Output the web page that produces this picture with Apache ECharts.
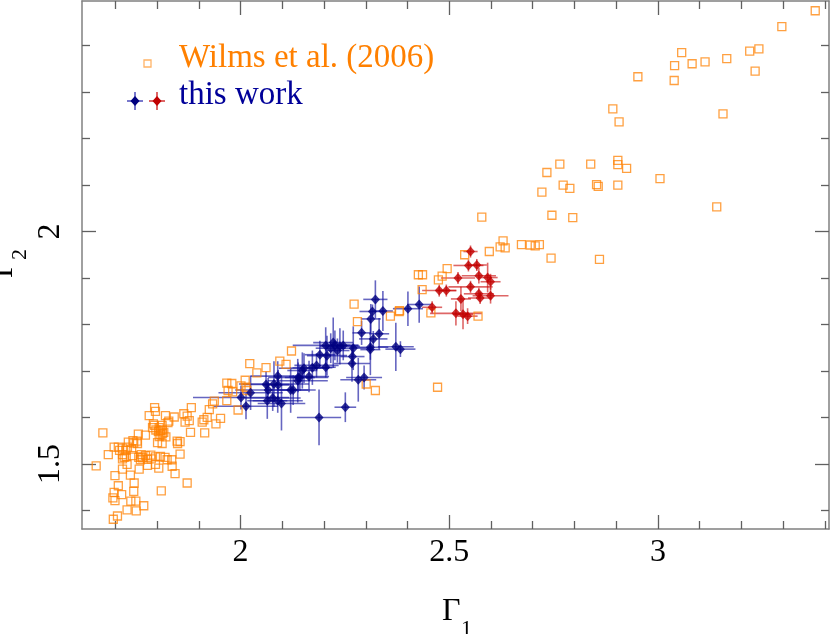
<!DOCTYPE html>
<html>
<head>
<meta charset="utf-8">
<script src="https://cdn.jsdelivr.net/npm/echarts@6/dist/echarts.min.js"></script>
<style>
    html, body { margin: 0; padding: 0; background: #fff; }
    #chart { width: 830px; height: 634px; }
</style>
</head>
<body>
<div id="chart"></div>
<script>
// Wilms et al. (2006): Gamma1, Gamma2
var wilmsG1 = [3.377,3.297,3.057,3.040,3.082,3.113,3.165,3.220,3.242,3.233,2.952,3.039,2.892,2.907,3.156,3.141,
    2.765,2.839,2.904,2.904,2.925,3.005,2.773,2.789,2.853,2.857,2.904,2.734,2.722,2.746,2.796,2.578,
    2.629,2.622,2.634,2.673,2.694,2.706,2.716,2.744,2.860,2.596,2.537,2.495,2.483,2.474,2.426,2.436,
    2.435,2.381,2.456,2.569,2.472,2.272,2.280,2.359,2.380,2.122,2.094,2.109,2.022,2.061,2.039,2.011,
    1.967,1.979,2.001,2.013,1.970,1.981,2.015,1.967,1.937,1.933,1.925,1.882,1.994,1.864,1.872,1.952,
    1.920,1.912,1.877,1.867,1.908,1.941,1.880,1.914,2.301,2.323,1.855,1.794,1.796,1.781,1.820,1.841,
    1.828,1.826,1.791,1.793,1.805,1.789,1.797,1.808,1.803,1.812,1.816,1.809,1.805,1.801,1.812,1.812,
    1.813,1.821,1.772,1.755,1.752,1.848,1.849,1.670,1.697,1.707,1.717,1.710,1.729,1.725,1.731,1.744,
    1.742,1.753,1.683,1.739,1.717,1.721,1.717,1.726,1.728,1.741,1.762,1.761,1.765,1.772,1.777,1.756,
    1.785,1.786,1.796,1.808,1.819,1.760,1.777,1.796,1.804,1.836,1.824,1.855,1.835,1.654,1.699,1.717,
    1.736,1.757,1.707,1.745,1.872,1.697,1.715,1.744,1.694,1.699,1.810,1.737,1.749,1.768,1.728,1.750,
    1.705,1.695,1.843];
var wilmsG2 = [2.475,2.441,2.385,2.357,2.361,2.365,2.372,2.388,2.393,2.345,2.333,2.325,2.264,2.236,2.253,2.053,
    2.145,2.145,2.153,2.144,2.136,2.114,2.100,2.093,2.101,2.097,2.100,2.127,2.085,2.035,2.030,2.031,
    1.980,1.967,1.965,1.972,1.971,1.969,1.972,1.943,1.940,1.957,1.950,1.920,1.904,1.896,1.907,1.907,
    1.875,1.830,1.825,1.818,1.665,1.844,1.806,1.818,1.828,1.743,1.721,1.714,1.716,1.707,1.696,1.680,
    1.674,1.673,1.668,1.665,1.658,1.655,1.658,1.636,1.635,1.629,1.617,1.621,1.616,1.608,1.603,1.598,
    1.600,1.595,1.593,1.590,1.590,1.586,1.568,1.567,1.672,1.658,1.548,1.621,1.613,1.604,1.604,1.601,
    1.592,1.589,1.586,1.583,1.578,1.578,1.573,1.572,1.570,1.573,1.568,1.563,1.559,1.546,1.544,1.583,
    1.565,1.558,1.562,1.564,1.549,1.549,1.544,1.567,1.536,1.536,1.534,1.529,1.536,1.529,1.547,1.545,
    1.550,1.544,1.520,1.532,1.520,1.514,1.511,1.515,1.499,1.518,1.520,1.515,1.513,1.518,1.510,1.514,
    1.519,1.511,1.515,1.516,1.514,1.509,1.497,1.499,1.491,1.495,1.509,1.521,1.509,1.496,1.475,1.489,
    1.476,1.489,1.453,1.459,1.459,1.439,1.434,1.441,1.427,1.421,1.442,1.420,1.420,1.410,1.401,1.399,
    1.388,1.381,1.479];

// this work (blue): Gamma1, Gamma2 and their errors
var blueG1 = [2.323,2.316,2.341,2.312,2.290,2.332,2.318,2.401,2.428,2.372,2.383,2.311,2.311,2.270,2.268,2.267,
    2.204,2.222,2.226,2.238,2.246,2.216,2.232,2.190,2.207,2.182,2.172,2.152,2.148,2.164,2.204,2.138,
    2.142,2.137,2.282,2.296,2.089,2.061,2.080,2.090,2.066,2.024,2.001,2.013,2.064,2.077,2.089,2.098,
    2.120,2.126,2.188,2.251];
var blueG2 = [1.854,1.828,1.829,1.812,1.782,1.780,1.769,1.834,1.843,1.752,1.747,1.751,1.746,1.749,1.731,1.716,
    1.755,1.761,1.755,1.753,1.755,1.749,1.744,1.735,1.733,1.712,1.707,1.706,1.701,1.688,1.708,1.686,
    1.686,1.679,1.681,1.686,1.689,1.671,1.672,1.670,1.659,1.653,1.643,1.624,1.636,1.642,1.636,1.630,
    1.659,1.659,1.600,1.622];
var blueErrG1 = [.029,.031,.024,.024,.022,.024,.034,.036,.029,.043,.036,.043,.024,.036,.029,.043,
    .079,.048,.036,.048,.036,.036,.029,.036,.048,.053,.048,.060,.036,.048,.024,.072,
    .036,.072,.043,.043,.065,.055,.084,.036,.079,.077,.115,.077,.048,.067,.060,.057,
    .060,.036,.053,.026];
var blueErrG2 = [.041,.015,.043,.032,.026,.034,.017,.037,.039,.052,.017,.060,.022,.047,.020,.039,
    .039,.054,.032,.039,.032,.032,.026,.030,.043,.026,.037,.032,.039,.034,.022,.032,
    .026,.047,.047,.026,.032,.028,.049,.032,.026,.037,.026,.028,.039,.028,.026,.058,
    .049,.032,.060,.032];

// this work (red)
var redG1 = [2.551,2.546,2.566,2.571,2.521,2.592,2.599,2.551,2.476,2.493,2.571,2.574,2.599,2.528,2.459,2.516,2.533,2.544];
var redG2 = [1.957,1.927,1.928,1.905,1.900,1.901,1.892,1.881,1.873,1.873,1.866,1.857,1.862,1.855,1.837,1.824,1.822,1.818];
var redErrG1 = [.017,.036,.024,.041,.041,.024,.024,.053,.041,.024,.036,.029,.043,.024,.024,.062,.024,.024];
var redErrG2 = [.013,.013,.013,.017,.013,.032,.017,.013,.013,.013,.013,.013,.017,.026,.013,.026,.032,.017];

// ticks
var xMajor = [2, 2.5, 3];
var xMinor = [1.7, 1.8, 1.9, 2.1, 2.2, 2.3, 2.4, 2.6, 2.7, 2.8, 2.9, 3.1, 3.2, 3.3, 3.4];
var yMajor = [1.5, 2];
var yMinor = [1.4, 1.6, 1.7, 1.8, 1.9, 2.1, 2.2, 2.3, 2.4];

var X_MIN = 1.62, X_MAX = 3.41, Y_MIN = 1.36, Y_MAX = 2.496;
var FONT = 'Liberation Serif';

var myChart = echarts.init(document.getElementById('chart'));

function makeAxis(dim, pos, ticks, len, major) {
    return {
        type: 'value',
        position: pos,
        min: dim === 'x' ? X_MIN : Y_MIN,
        max: dim === 'x' ? X_MAX : Y_MAX,
        axisLine: { show: major, onZero: false, lineStyle: { color: '#808080', width: 1.5 } },
        axisTick: { show: true, inside: true, length: len, customValues: ticks,
            lineStyle: { color: '#606060', width: 1.3 } },
        axisLabel: {
            show: major && (pos === 'bottom' || pos === 'left'),
            customValues: ticks,
            color: '#000',
            fontFamily: FONT,
            fontSize: 32,
            rotate: dim === 'y' ? 90 : 0,
            margin: dim === 'y' ? 15 : 8,
            formatter: function (v) { return String(v); }
        },
        splitLine: { show: false }
    };
}

function errorBars(color) {
    return function (params, api) {
        var x = api.value(0), y = api.value(1), ex = api.value(2), ey = api.value(3);
        var a = api.coord([x - ex, y]), b = api.coord([x + ex, y]);
        var c = api.coord([x, y - ey]), d = api.coord([x, y + ey]);
        var style = { stroke: color, lineWidth: 1.6 };
        return {
            type: 'group',
            children: [
                { type: 'line', shape: { x1: a[0], y1: a[1], x2: b[0], y2: b[1] }, style: style },
                { type: 'line', shape: { x1: c[0], y1: c[1], x2: d[0], y2: d[1] }, style: style }
            ]
        };
    };
}

var wilmsData = wilmsG1.map(function (x, i) { return [x, wilmsG2[i]]; });
var blueData = blueG1.map(function (x, i) { return [x, blueG2[i], blueErrG1[i], blueErrG2[i]]; });
var redData = redG1.map(function (x, i) { return [x, redG2[i], redErrG1[i], redErrG2[i]]; });

function legendMark(cx, cy, color, bar) {
    return [
        { type: 'line', shape: { x1: cx - 8, y1: cy, x2: cx + 8, y2: cy }, style: { stroke: bar, lineWidth: 1.5 } },
        { type: 'line', shape: { x1: cx, y1: cy - 9, x2: cx, y2: cy + 9 }, style: { stroke: bar, lineWidth: 1.5 } },
        { type: 'polygon', shape: { points: [[cx, cy - 5], [cx + 4.5, cy], [cx, cy + 5], [cx - 4.5, cy]] }, style: { fill: color } }
    ];
}

myChart.setOption({
    animation: false,
    backgroundColor: '#fff',
    grid: { left: 82, right: 1, top: 1, bottom: 105 },
    xAxis: [
        makeAxis('x', 'bottom', xMajor, 14, true),
        makeAxis('x', 'bottom', xMinor, 8, false),
        makeAxis('x', 'top', xMajor, 14, true),
        makeAxis('x', 'top', xMinor, 8, false)
    ],
    yAxis: [
        makeAxis('y', 'left', yMajor, 14, true),
        makeAxis('y', 'left', yMinor, 8, false),
        makeAxis('y', 'right', yMajor, 14, true),
        makeAxis('y', 'right', yMinor, 8, false)
    ],
    graphic: [
        // legend
        { type: 'rect', shape: { x: 144, y: 60, width: 7, height: 7 },
          style: { fill: 'none', stroke: 'rgba(255,128,0,0.6)', lineWidth: 1.3 } },
        { type: 'text', x: 179, y: 58, style: { text: 'Wilms et al. (2006)', fill: '#ff8000',
          font: '33px "' + FONT + '"', verticalAlign: 'middle' } },
        { type: 'group', children: legendMark(135, 101, '#000080', 'rgba(30,30,170,0.8)')
            .concat(legendMark(157, 101, '#c00000', 'rgba(200,0,0,0.8)')) },
        { type: 'text', x: 179, y: 95, style: { text: 'this work', fill: '#000099',
          font: '33px "' + FONT + '"', verticalAlign: 'middle' } },
        // axis titles
        { type: 'text', x: 442, y: 612, style: { text: 'Γ', fill: '#000',
          font: '32px "' + FONT + '"', verticalAlign: 'middle' } },
        { type: 'text', x: 461, y: 629, style: { text: '1', fill: '#000',
          font: '22px "' + FONT + '"', verticalAlign: 'middle' } },
        { type: 'text', x: 4, y: 278, rotation: Math.PI / 2, style: { text: 'Γ', fill: '#000',
          font: '32px "' + FONT + '"', verticalAlign: 'middle' } },
        { type: 'text', x: 20, y: 260, rotation: Math.PI / 2, style: { text: '2', fill: '#000',
          font: '22px "' + FONT + '"', verticalAlign: 'middle' } }
    ],
    series: [
        {
            name: 'Wilms et al. (2006)',
            type: 'scatter',
            data: wilmsData,
            symbol: 'rect',
            symbolSize: 8,
            itemStyle: { color: 'rgba(255,255,255,0)', borderColor: '#ff8000', borderWidth: 1.3, opacity: 0.75 }
        },
        {
            type: 'custom',
            data: blueData,
            encode: { x: 0, y: 1 },
            renderItem: errorBars('rgba(20,20,160,0.65)'),
            clip: true
        },
        {
            name: 'this work',
            type: 'scatter',
            data: blueData,
            symbol: 'diamond',
            symbolSize: [9, 10],
            itemStyle: { color: '#000080' }
        },
        {
            type: 'custom',
            data: redData,
            encode: { x: 0, y: 1 },
            renderItem: errorBars('rgba(200,0,0,0.6)'),
            clip: true
        },
        {
            name: 'this work red',
            type: 'scatter',
            data: redData,
            symbol: 'diamond',
            symbolSize: [9, 10],
            itemStyle: { color: '#c00000' }
        }
    ]
});
</script>
</body>
</html>
